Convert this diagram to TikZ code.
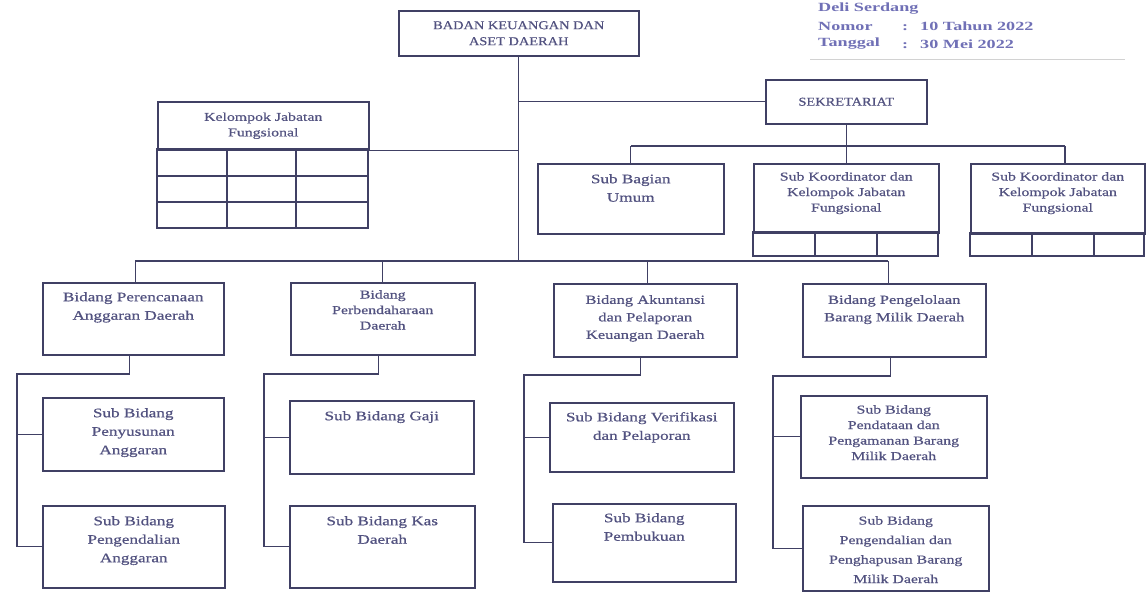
\documentclass[tikz,border=0pt]{standalone}
\usepackage{fontspec}
\setmainfont{Liberation Serif}
\newfontfamily\bodyfont[FakeStretch=1.32,FakeBold=0.6]{Liberation Serif}
\newfontfamily\capfont[FakeStretch=1.2,FakeBold=0.6]{Liberation Serif}
\newfontfamily\hdrfont[FakeStretch=1.45]{Liberation Serif}
\definecolor{linec}{RGB}{64,64,100}
\definecolor{txtc}{RGB}{82,82,128}
\definecolor{hdrc}{RGB}{112,112,182}
\newcommand{\orgbox}[8][]{%
  \node[box, minimum width=#5pt, minimum height=#6pt] (#2) at (#3,#4) {};
  \node[lab,#1] (#2-t) at ([yshift=-#7pt]#2.north) {#8};}
\begin{document}
\begin{tikzpicture}[x=1pt,y=-1pt,
  box/.style={draw=linec, line width=1.5pt, rectangle, inner sep=0pt, anchor=north west},
  conn/.style={draw=linec, line width=1.1pt},
  gridl/.style={draw=linec, line width=1.3pt},
  lab/.style={font=\bodyfont\fontsize{13}{18.5}\selectfont, text=txtc, align=center, anchor=north, inner sep=0pt},
  tight/.style={font=\bodyfont\fontsize{12}{15.5}\selectfont},
  mid/.style={font=\bodyfont\fontsize{12}{15.5}\selectfont, text=txtc, align=center},
  captext/.style={font=\capfont\fontsize{12}{16}\selectfont, text=txtc, align=center},
  hdr/.style={font=\hdrfont\bfseries\fontsize{12.5}{15}\selectfont, text=hdrc, anchor=west, inner sep=0pt}]
\useasboundingbox[fill=white] (0,0) rectangle (1146,592);

% header text
\node[hdr] (h1) at (818,9) {Deli Serdang};
\node[hdr] (h2) at (818,26) {Nomor};
\node[hdr] (h2v) at (902,26) {:\hspace{12pt}10 Tahun 2022};
\node[hdr] (h3) at (818,44) {Tanggal};
\node[hdr] (h3v) at (902,44) {:\hspace{12pt}30 Mei 2022};
\draw[gray!35, line width=0.8pt] (810,59) -- (1125,59);

% top levels
\node[box, captext, minimum width=240pt, minimum height=45pt] (top) at (398,10) {BADAN KEUANGAN DAN\\ASET DAERAH};
\node[box, captext, minimum width=161pt, minimum height=44pt] (sek) at (765,79) {SEKRETARIAT};
\node[box, mid, minimum width=211pt, minimum height=48pt] (kjf) at (157,101) {Kelompok Jabatan\\Fungsional};
\draw[gridl] (157,149) rectangle (368,228);
\draw[gridl] (157,176) -- (368,176) (157,202) -- (368,202) (227,149) -- (227,228) (296,149) -- (296,228);

\coordinate (bus) at (518,261);
\draw[conn] (top.south) -- (top.south |- bus);
\draw[conn] (sek.west) -- (sek.west -| top.south);
\draw[conn] (kjf.south east) -- (kjf.south east -| top.south);

% sekretariat children
\orgbox{sbu}{537}{163}{186}{70}{11}{Sub Bagian\\Umum}
\orgbox[tight]{sk1}{753}{163}{185}{69}{9}{Sub Koordinator dan\\Kelompok Jabatan\\Fungsional}
\draw[gridl] (753,232) rectangle (938,256);
\draw[gridl] (815,232) -- (815,256) (877,232) -- (877,256);
\orgbox[tight]{sk2}{970}{163}{174}{70}{9}{Sub Koordinator dan\\Kelompok Jabatan\\Fungsional}
\draw[gridl] (970,233) rectangle (1144,256);
\draw[gridl] (1032,233) -- (1032,256) (1094,233) -- (1094,256);

\coordinate (sbus) at (845.5,146);
\coordinate (sk2c) at (1065,163);
\draw[conn] (sek.south) -- (sek.south |- sbus);
\draw[conn] (sbu.north |- sbus) -- (sk2c |- sbus);
\draw[conn] (sbu.north |- sbus) -- (sbu.north);
\draw[conn] (sk1.north |- sbus) -- (sk1.north);
\draw[conn] (sk2c |- sbus) -- (sk2c);

% bidang
\orgbox{b1}{42}{282}{181}{72}{10}{Bidang Perencanaan\\Anggaran Daerah}
\orgbox[tight]{b2}{290}{282}{184}{72}{8}{Bidang\\Perbendaharaan\\Daerah}
\orgbox[font=\bodyfont\fontsize{12.5}{17.5}\selectfont]{b3}{553}{283}{183}{73}{12}{Bidang Akuntansi\\dan Pelaporan\\Keuangan Daerah}
\orgbox[font=\bodyfont\fontsize{12.5}{17.5}\selectfont]{b4}{802}{283}{183}{73}{12}{Bidang Pengelolaan\\Barang Milik Daerah}

\draw[conn] ([xshift=2pt]b1.north |- bus) -- ([xshift=-6pt]b4.north |- bus);
\draw[conn] ([xshift=2pt]b1.north |- bus) -- ([xshift=2pt]b1.north);
\draw[conn] (b2.north |- bus) -- (b2.north);
\draw[conn] ([xshift=2pt]b3.north |- bus) -- ([xshift=2pt]b3.north);
\draw[conn] ([xshift=-6pt]b4.north |- bus) -- ([xshift=-6pt]b4.north);

% sub bidang
\orgbox{s1a}{42}{397}{181}{73}{11}{Sub Bidang\\Penyusunan\\Anggaran}
\orgbox{s1b}{42}{505}{182}{82}{11}{Sub Bidang\\Pengendalian\\Anggaran}
\orgbox{s2a}{289}{400}{184}{73}{11}{Sub Bidang Gaji}
\orgbox{s2b}{289}{505}{185}{82}{11}{Sub Bidang Kas\\Daerah}
\orgbox{s3a}{549}{402}{184}{69}{10}{Sub Bidang Verifikasi\\dan Pelaporan}
\orgbox{s3b}{552}{503}{183}{78}{10}{Sub Bidang\\Pembukuan}
\orgbox[tight]{s4a}{800}{395}{186}{82}{10}{Sub Bidang\\Pendataan dan\\Pengamanan Barang\\Milik Daerah}
\orgbox[font=\bodyfont\fontsize{12}{19.5}\selectfont]{s4b}{802}{505}{186}{85}{11}{Sub Bidang\\Pengendalian dan\\Penghapusan Barang\\Milik Daerah}

\coordinate (sp1) at (17,374);
\coordinate (sp2) at (264,374);
\coordinate (sp3) at (524,375);
\coordinate (sp4) at (773,376);
\draw[conn] ([xshift=-4pt]b1.south) |- (sp1) -- (sp1 |- s1b.west) -- (s1b.west);
\draw[conn] (sp1 |- s1a.west) -- (s1a.west);
\draw[conn] ([xshift=-4pt]b2.south) |- (sp2) -- (sp2 |- s2b.west) -- (s2b.west);
\draw[conn] (sp2 |- s2a.west) -- (s2a.west);
\draw[conn] ([xshift=-5pt]b3.south) |- (sp3) -- (sp3 |- s3b.west) -- (s3b.west);
\draw[conn] (sp3 |- s3a.west) -- (s3a.west);
\draw[conn] ([xshift=-4pt]b4.south) |- (sp4) -- (sp4 |- s4b.west) -- (s4b.west);
\draw[conn] (sp4 |- s4a.west) -- (s4a.west);
\end{tikzpicture}
\end{document}
